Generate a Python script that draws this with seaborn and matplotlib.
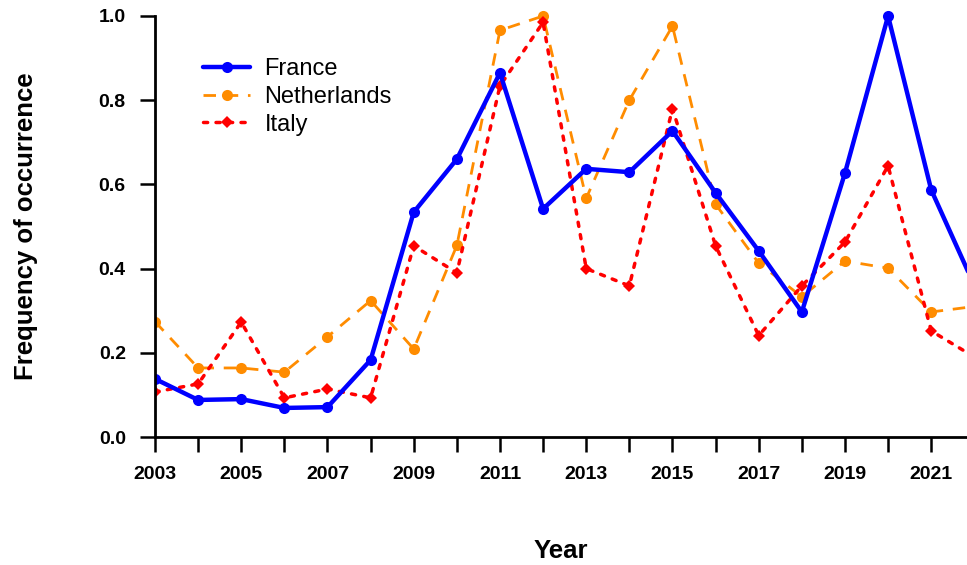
import matplotlib
matplotlib.use("Agg")
import matplotlib.pyplot as plt
import seaborn as sns
import numpy as np
import pandas as pd
from matplotlib.transforms import Bbox, TransformedBbox

years = [2003, 2004, 2005, 2006, 2007, 2008, 2009, 2010, 2011, 2012,
         2013, 2014, 2015, 2016, 2017, 2018, 2019, 2020, 2021, 2022]
france = [0.138, 0.088, 0.090, 0.069, 0.071, 0.183, 0.534, 0.660, 0.865, 0.542,
          0.637, 0.629, 0.727, 0.580, 0.442, 0.297, 0.627, 1.000, 0.587, 0.36]
netherlands = [0.274, 0.164, 0.164, 0.154, 0.238, 0.324, 0.209, 0.455, 0.966, 1.000,
               0.567, 0.800, 0.976, 0.553, 0.413, 0.333, 0.418, 0.401, 0.297, 0.31]
italy = [0.107, 0.126, 0.273, 0.093, 0.114, 0.093, 0.454, 0.390, 0.834, 0.985,
         0.400, 0.359, 0.780, 0.454, 0.241, 0.359, 0.463, 0.644, 0.252, 0.19]
xtick_labels = ["2003", "2005", "2007", "2009", "2011", "2013", "2015", "2017", "2019", "2021"]
ytick_labels = ["0.0", "0.2", "0.4", "0.6", "0.8", "1.0"]

sns.set_style("ticks")
plt.rcParams['font.family'] = ['Liberation Sans', 'DejaVu Sans']
plt.rcParams['text.color'] = 'black'
plt.rcParams['axes.labelcolor'] = 'black'
plt.rcParams['xtick.color'] = 'black'
plt.rcParams['ytick.color'] = 'black'

fig = plt.figure(figsize=(9.67, 5.65), dpi=100)
ax = fig.add_axes([155/967, 1 - 437/565, 1 - 155/967, (437 - 16)/565])

sns.lineplot(x=years, y=netherlands, ax=ax, color="#FF8C00", linewidth=2.0,
             linestyle=(0, (4.5, 3.5)), marker="o", markersize=8,
             markeredgewidth=0, label="Netherlands")
sns.lineplot(x=years, y=italy, ax=ax, color="#FF0000", linewidth=2.5,
             linestyle=(0, (1.2, 2.4)), dash_capstyle="round", marker="D",
             markersize=6.5, markeredgewidth=0, label="Italy")
sns.lineplot(x=years, y=france, ax=ax, color="#0000FF", linewidth=3.2,
             marker="o", markersize=8, markeredgewidth=0, label="France")

for ln in ax.lines:
    bb = TransformedBbox(Bbox([[0, -0.1], [1, 1.1]]), ax.transAxes)
    ln.set_clip_box(bb)
    ln.set_clip_on(True)

ax.set_xlim(2003, 2021.83)
ax.set_ylim(0, 1.0)
ax.set_xticks(years[:-1])
ax.set_xticklabels([str(y) if str(y) in xtick_labels else "" for y in years[:-1]])
ax.set_yticks([0, 0.2, 0.4, 0.6, 0.8, 1.0])
ax.set_yticklabels(ytick_labels)

for lab in ax.get_xticklabels() + ax.get_yticklabels():
    lab.set_fontweight("bold")
ax.tick_params(axis="both", direction="out", length=11, width=1.8, labelsize=14,
               color="black", labelcolor="black", pad=10)
for s in ["top", "right"]:
    ax.spines[s].set_visible(False)
for s in ["left", "bottom"]:
    ax.spines[s].set_linewidth(2.0)
    ax.spines[s].set_color("black")

ax.set_xlabel("Year", fontsize=18.5, fontweight="bold", labelpad=40)
ax.set_ylabel("Frequency of occurrence", fontsize=18.5, fontweight="bold", labelpad=44)

handles, labels = ax.get_legend_handles_labels()
order = [labels.index(n) for n in ["France", "Netherlands", "Italy"]]
leg = ax.legend([handles[i] for i in order], [labels[i] for i in order],
                loc="upper left", bbox_to_anchor=(0.033, 0.95), frameon=False,
                fontsize=17, handlelength=2.0, handletextpad=0.6, labelspacing=0.24)

fig.savefig("out.png", dpi=100)
